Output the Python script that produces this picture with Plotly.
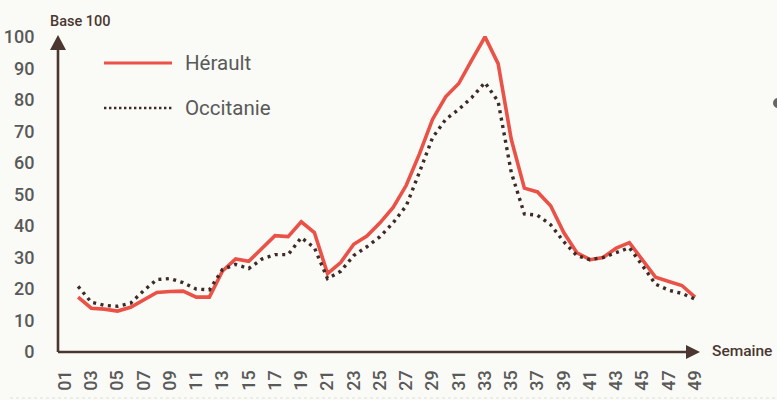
import plotly.graph_objects as go

weeks = list(range(2, 50))
herault = [17.4, 13.9, 13.6, 13.0, 14.2, 16.4, 18.9, 19.2, 19.3, 17.4, 17.4, 25.7,
           29.5, 28.8, 33.0, 36.9, 36.6, 41.3, 37.9, 24.9, 28.4, 34.2, 36.8, 41.0,
           45.9, 52.9, 62.8, 73.8, 81.0, 85.2, 92.7, 100.0, 91.5, 67.5, 52.0, 50.8,
           46.4, 37.9, 31.5, 29.3, 30.0, 33.0, 34.7, 29.0, 23.7, 22.4, 21.1, 17.4]
occitanie = [20.8, 15.8, 14.8, 14.5, 15.5, 19.5, 23.0, 23.3, 22.0, 20.0, 19.7, 26.2,
             27.8, 26.5, 29.5, 30.9, 30.9, 36.3, 33.1, 23.3, 25.6, 30.6, 33.4, 36.6,
             41.0, 46.4, 57.0, 68.0, 73.8, 77.0, 80.8, 85.5, 79.5, 57.0, 43.8, 43.4,
             40.4, 35.0, 30.6, 29.3, 30.0, 31.5, 33.1, 27.4, 21.5, 19.6, 18.6, 16.8]
tick_weeks = list(range(1, 50, 2))
tick_labels = [f"{w:02d}" for w in tick_weeks]
y_ticks = list(range(0, 101, 10))

RED = "#ea5248"
DOT = "#3e2a26"
AXIS = "#4b3630"
TXT = "#595959"
BG = "#fafbf7"
FONT = "Roboto"

fig = go.Figure()
fig.add_trace(go.Scatter(x=weeks, y=herault, mode="lines", name="Hérault",
                         line=dict(color=RED, width=3.6), hoverinfo="skip"))
fig.add_trace(go.Scatter(x=weeks, y=occitanie, mode="lines", name="Occitanie",
                         line=dict(color=DOT, width=3.4, dash="3px,4.5px"), hoverinfo="skip"))

W, H = 777, 400
L, R, T, B = 58, 77, 35, 48
pw, ph = W - L - R, H - T - B

def px(x):
    return (x - L) / pw

def py(y):
    return (H - B - y) / ph

shapes = [
    dict(type="line", xref="paper", yref="paper", x0=0, x1=0, y0=0, y1=py(50),
         line=dict(color=AXIS, width=2.6)),
    dict(type="path", xref="paper", yref="paper",
         path=f"M {px(58)},{py(35)} L {px(50)},{py(50)} L {px(66)},{py(50)} Z",
         fillcolor=AXIS, line=dict(width=0)),
    dict(type="line", xref="paper", yref="paper", x0=0, x1=px(687), y0=0, y1=0,
         line=dict(color=AXIS, width=2.6)),
    dict(type="path", xref="paper", yref="paper",
         path=f"M {px(700)},{py(352)} L {px(686)},{py(345)} L {px(686)},{py(359)} Z",
         fillcolor=AXIS, line=dict(width=0)),
    dict(type="line", xref="paper", yref="paper", x0=px(104), x1=px(172), y0=py(63), y1=py(63),
         line=dict(color=RED, width=3)),
    dict(type="line", xref="paper", yref="paper", x0=px(104), x1=px(172), y0=py(108), y1=py(108),
         line=dict(color=DOT, width=2.4, dash="2.4px,2.6px")),
    dict(type="circle", xref="paper", yref="paper", x0=px(773), x1=px(783), y0=py(108), y1=py(98),
         fillcolor="#666666", line=dict(width=0)),
    dict(type="line", xref="paper", yref="paper", x0=px(10), x1=px(777), y0=py(398), y1=py(398),
         line=dict(color="#dedede", width=1, dash="3px,3px")),
]

annotations = [
    dict(text="Base 100", xref="paper", yref="paper", x=px(48), y=py(21), xanchor="left",
         yanchor="middle", showarrow=False, font=dict(family=FONT, size=14.5, color=AXIS, weight=500)),
    dict(text="Semaine", xref="paper", yref="paper", x=px(710), y=py(351), xanchor="left",
         yanchor="middle", showarrow=False, font=dict(family=FONT, size=15.5, color=AXIS, weight=500)),
    dict(text="Hérault", xref="paper", yref="paper", x=px(183), y=py(63), xanchor="left",
         yanchor="middle", showarrow=False, font=dict(family=FONT, size=20.5, color=TXT)),
    dict(text="Occitanie", xref="paper", yref="paper", x=px(183), y=py(108), xanchor="left",
         yanchor="middle", showarrow=False, font=dict(family=FONT, size=20.5, color=TXT)),
]

fig.update_layout(
    width=W, height=H,
    margin=dict(l=L, r=R, t=T, b=B, pad=0, autoexpand=False),
    paper_bgcolor=BG, plot_bgcolor=BG,
    showlegend=False,
    shapes=shapes,
    annotations=annotations,
    xaxis=dict(range=[0.467, 49.38], tickvals=tick_weeks, ticktext=tick_labels,
               tickangle=-90, showgrid=False, zeroline=False, showline=False,
               ticks="outside", ticklen=10, tickcolor="rgba(0,0,0,0)", automargin=False,
               tickfont=dict(family=FONT, size=18, color=TXT, weight=500), fixedrange=True),
    yaxis=dict(range=[0, 100.6], tickvals=y_ticks, showgrid=False, zeroline=False,
               showline=False, ticks="outside", ticklen=19, tickcolor="rgba(0,0,0,0)",
               automargin=False,
               tickfont=dict(family=FONT, size=18, color=TXT, weight=500), fixedrange=True),
)

fig.write_html("out.html", config={"displayModeBar": False},
               post_script="document.body.style.margin='0';document.body.style.background='#fafbf7';")
